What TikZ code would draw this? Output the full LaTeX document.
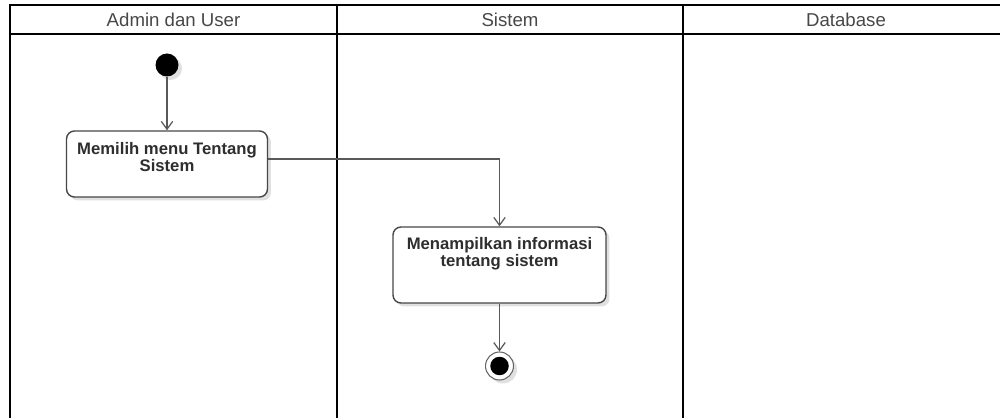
\documentclass[tikz,border=0pt]{standalone}
\usepackage{fontspec}
\setmainfont{Liberation Sans}
\usetikzlibrary{arrows.meta,shadows}
\begin{document}
\begin{tikzpicture}[x=0.02cm,y=-0.02cm,
  lane/.style={draw=black,line width=1.4pt},
  lanetitle/.style={font=\fontsize{10.6}{12}\selectfont,text=black!72,inner sep=0pt},
  softshadow/.style={drop shadow={shadow xshift=0.07cm,shadow yshift=-0.07cm,opacity=0.12,fill=black}},
  actbox/.style={draw=black!72,line width=0.8pt,rounded corners=4.5pt,fill=white,
    inner sep=0pt,softshadow},
  acttext/.style={font=\bfseries\fontsize{9.5}{9.4}\selectfont,text=black!82,
    align=center,inner sep=0pt},
  flow/.style={draw=black!65,line width=0.7pt,-{Straight Barb[length=4.5pt,width=6.5pt]}},
  startdot/.style={circle,fill=black,inner sep=0pt,minimum size=0.46cm,softshadow},
  endring/.style={circle,draw=black!60,line width=0.6pt,fill=white,inner sep=0pt,
    minimum size=0.56cm,softshadow},
  enddot/.style={circle,fill=black,inner sep=0pt,minimum size=0.37cm},
 ]
\useasboundingbox (0,0) rectangle (1000,418);

% swimlane frame, header row and lane dividers
\draw[lane] (10,5) rectangle (1009,440);
\draw[lane] (10,34) -- (1009,34);
\draw[lane] (337,5) -- (337,440);
\draw[lane] (683,5) -- (683,440);

\node[lanetitle] (h1) at (173.5,19.5) {Admin dan User};
\node[lanetitle] (h2) at (510,19.5) {Sistem};
\node[lanetitle] (h3) at (846,19.5) {Database};

% activities
\node[startdot] (start) at (167,65) {};

\node[actbox,minimum width=4.02cm,minimum height=1.32cm] (a1) at (167,164) {};
\node[acttext] (t1) at (167,157) {Memilih menu Tentang\\Sistem};

\node[actbox,minimum width=4.26cm,minimum height=1.52cm] (a2) at (499.5,265) {};
\node[acttext] (t2) at (499.5,253.5) {Menampilkan informasi\\tentang sistem};

\node[endring] (stop) at (499.5,366) {};
\node[enddot] (stopdot) at (stop) {};

% control flow
\coordinate (bend) at (499.5,159);
\draw[flow] (start) -- (a1);
\draw[flow] (a1.east |- bend) -| (a2);
\draw[flow] (a2) -- (stop);
\end{tikzpicture}
\end{document}
